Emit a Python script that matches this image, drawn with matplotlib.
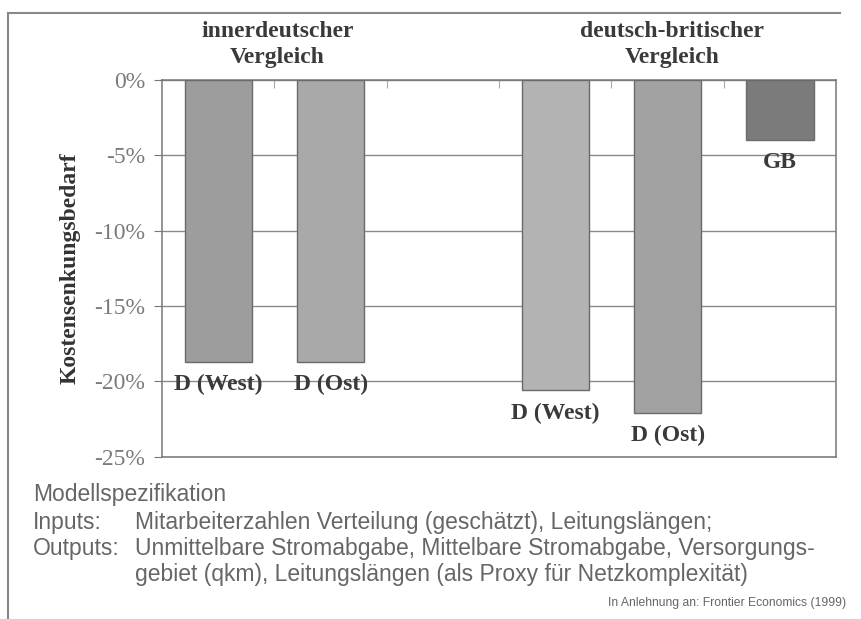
import matplotlib
matplotlib.use("Agg")
import matplotlib.pyplot as plt

# data (cost reduction need, in %)
categories = ["D (West)", "D (Ost)", "", "D (West)", "D (Ost)", "GB"]
values = [-18.7, -18.7, None, -20.6, -22.1, -4.0]
bar_colors = ["#9d9d9d", "#a9a9a9", None, "#b3b3b3", "#a2a2a2", "#7b7b7b"]
y_ticks = [0, -5, -10, -15, -20, -25]
y_tick_labels = ["0%", "-5%", "-10%", "-15%", "-20%", "-25%"]
group_titles = ["innerdeutscher\nVergleich", "deutsch-britischer\nVergleich"]

serif = "Liberation Serif"
sans = "Liberation Sans"

fig = plt.figure(figsize=(8.62, 6.19), dpi=100)
ax = fig.add_axes([0.188, 0.262, 0.782, 0.609])

xs = list(range(len(categories)))
for x, v, c, lab in zip(xs, values, bar_colors, categories):
    if v is None:
        continue
    ax.bar(x, v, width=0.6, color=c, edgecolor="#6a6a6a", linewidth=1.0, zorder=3)
    ax.text(x, v - 1.5, lab, ha="center", va="center", fontsize=17,
            fontweight="bold", family=serif, color="#3a3a3a", zorder=4)

ax.set_xlim(-0.5, len(categories) - 0.5)
ax.set_ylim(-25, 0)
ax.set_yticks(y_ticks)
ax.set_yticklabels(y_tick_labels, family=serif, fontsize=17, color="#7a7a7a")
ax.yaxis.grid(True, color="#8a8a8a", linewidth=1.0, zorder=1)
ax.tick_params(axis="y", length=6, color="#777777", pad=6)

# category boundary ticks along the top (0 %) line
ax.xaxis.tick_top()
ax.set_xticks([x + 0.5 for x in xs[:-1]])
ax.set_xticklabels([])
ax.tick_params(axis="x", direction="in", length=6, color="#aaaaaa")

for s in ax.spines.values():
    s.set_color("#777777")
    s.set_linewidth(1.1)

ax.set_ylabel("Kostensenkungsbedarf", family=serif, fontsize=17,
              fontweight="bold", color="#333333", labelpad=10)

# group titles
fig.text(0.322, 0.928, group_titles[0], ha="center", va="center", family=serif,
         fontsize=17, fontweight="bold", color="#3a3a3a", linespacing=1.35)
fig.text(0.780, 0.928, group_titles[1], ha="center", va="center", family=serif,
         fontsize=17, fontweight="bold", color="#3a3a3a", linespacing=1.35)

# outer frame (top and left edge of the scanned box)
fig.add_artist(plt.Line2D([0.009, 0.975], [0.979, 0.979], color="#888888", lw=1.5))
fig.add_artist(plt.Line2D([0.009, 0.009], [0.0, 0.979], color="#888888", lw=1.5))

# footnote
note_kw = dict(family=sans, fontsize=16.5, color="#666666", va="center")
fig.text(0.038, 1 - 494 / 619, "Modellspezifikation", **note_kw)
fig.text(0.038, 1 - 522 / 619, "Inputs:", **note_kw)
fig.text(0.157, 1 - 522 / 619, "Mitarbeiterzahlen Verteilung (geschätzt), Leitungslängen;", **note_kw)
fig.text(0.038, 1 - 549 / 619, "Outputs:", **note_kw)
fig.text(0.157, 1 - 549 / 619,
         "Unmittelbare Stromabgabe, Mittelbare Stromabgabe, Versorgungs-", **note_kw)
fig.text(0.157, 1 - 575 / 619,
         "gebiet (qkm), Leitungslängen (als Proxy für Netzkomplexität)", **note_kw)
fig.text(0.982, 1 - 603 / 619, "In Anlehnung an: Frontier Economics (1999)",
         family=sans, fontsize=8.7, color="#666666", va="center", ha="right")

fig.savefig("out.png", dpi=100, facecolor="white")
